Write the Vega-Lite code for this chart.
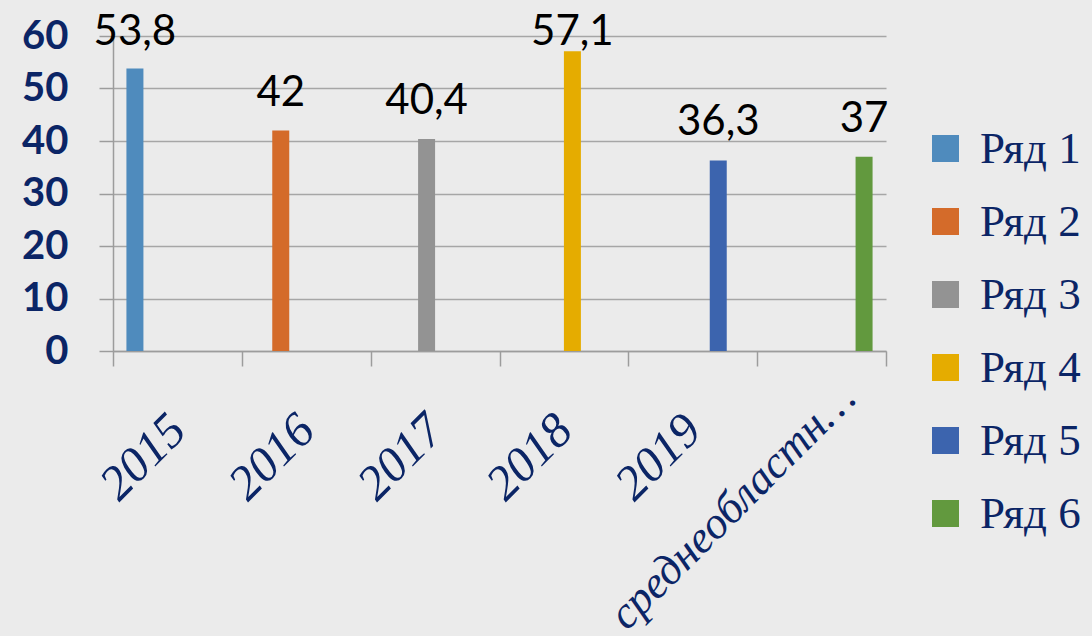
{
  "$schema": "https://vega.github.io/schema/vega-lite/v6.json",
  "width": 773,
  "height": 315,
  "autosize": {"type": "none"},
  "padding": {"left": 113, "top": 36, "right": 206, "bottom": 285},
  "background": "#ebebeb",
  "config": {"view": {"stroke": null}},
  "data": {
    "values": [
      {"cat": "2015", "series": "Ряд 1", "value": 53.8, "label": "53,8"},
      {"cat": "2016", "series": "Ряд 2", "value": 42, "label": "42"},
      {"cat": "2017", "series": "Ряд 3", "value": 40.4, "label": "40,4"},
      {"cat": "2018", "series": "Ряд 4", "value": 57.1, "label": "57,1"},
      {"cat": "2019", "series": "Ряд 5", "value": 36.3, "label": "36,3"},
      {"cat": "среднеобластн…", "series": "Ряд 6", "value": 37, "label": "37"}
    ]
  },
  "encoding": {
    "x": {
      "field": "cat",
      "type": "nominal",
      "sort": null,
      "title": null,
      "scale": {
        "domain": ["2015", "2016", "2017", "2018", "2019", "среднеобластн…"],
        "paddingInner": 0,
        "paddingOuter": 0
      },
      "axis": {
        "tickBand": "extent",
        "labelAngle": -45,
        "labelAlign": "right",
        "labelBaseline": "middle",
        "labelPadding": {"condition": {"test": "datum.value === 'среднеобластн…'", "value": 24}, "value": 56},
        "labelOffset": {"condition": {"test": "datum.value === 'среднеобластн…'", "value": 26}, "value": 0},
        "labelFontSize": {"condition": {"test": "datum.value === 'среднеобластн…'", "value": 45}, "value": 49},
        "labelFont": "Liberation Serif",
        "labelFontStyle": "italic",
        "labelColor": "#0b2566",
        "labelLimit": 500,
        "tickSize": 15,
        "tickColor": "#9c9c9c",
        "tickWidth": 1.5,
        "domainColor": "#9c9c9c",
        "domainWidth": 1.5,
        "grid": false
      }
    },
    "xOffset": {
      "field": "series",
      "scale": {
        "domain": ["Ряд 1", "Ряд 2", "Ряд 3", "Ряд 4", "Ряд 5", "Ряд 6"],
        "paddingInner": 0,
        "paddingOuter": 0.79
      }
    },
    "y": {
      "field": "value",
      "type": "quantitative",
      "title": null,
      "scale": {"domain": [0, 60], "nice": false},
      "axis": {
        "values": [0, 10, 20, 30, 40, 50, 60],
        "labelFont": "Lato",
        "labelFontWeight": "bold",
        "labelFontSize": 40,
        "labelColor": "#0b2566",
        "labelPadding": 31,
        "tickSize": 14,
        "tickColor": "#9c9c9c",
        "tickWidth": 1.5,
        "domainColor": "#9c9c9c",
        "domainWidth": 1.5,
        "gridColor": "#a6a6a6",
        "gridWidth": 1.5
      }
    }
  },
  "layer": [
    {
      "mark": {"type": "bar"},
      "encoding": {
        "color": {
          "field": "series",
          "type": "nominal",
          "scale": {
            "domain": ["Ряд 1", "Ряд 2", "Ряд 3", "Ряд 4", "Ряд 5", "Ряд 6"],
            "range": ["#4f8bbd", "#d46b2a", "#939393", "#e5ac00", "#3c64ae", "#62993e"]
          },
          "legend": {
            "title": null,
            "orient": "none",
            "legendX": 810,
            "legendY": 90,
            "padding": 0,
            "symbolType": "square",
            "symbolSize": 729,
            "symbolStrokeWidth": 0,
            "labelFont": "Liberation Serif",
            "labelFontSize": 45,
            "labelColor": "#0b2566",
            "labelOffset": 12,
            "rowPadding": 27,
            "labelLimit": 300
          }
        }
      }
    },
    {
      "transform": [{"calculate": "min(datum.value, 53.6)", "as": "labelPos"}],
      "mark": {"type": "text", "baseline": "alphabetic", "dy": -25, "font": "Lato", "fontSize": 42, "color": "#000000"},
      "encoding": {
        "y": {"field": "labelPos", "type": "quantitative"},
        "text": {"field": "label"}
      }
    }
  ]
}
